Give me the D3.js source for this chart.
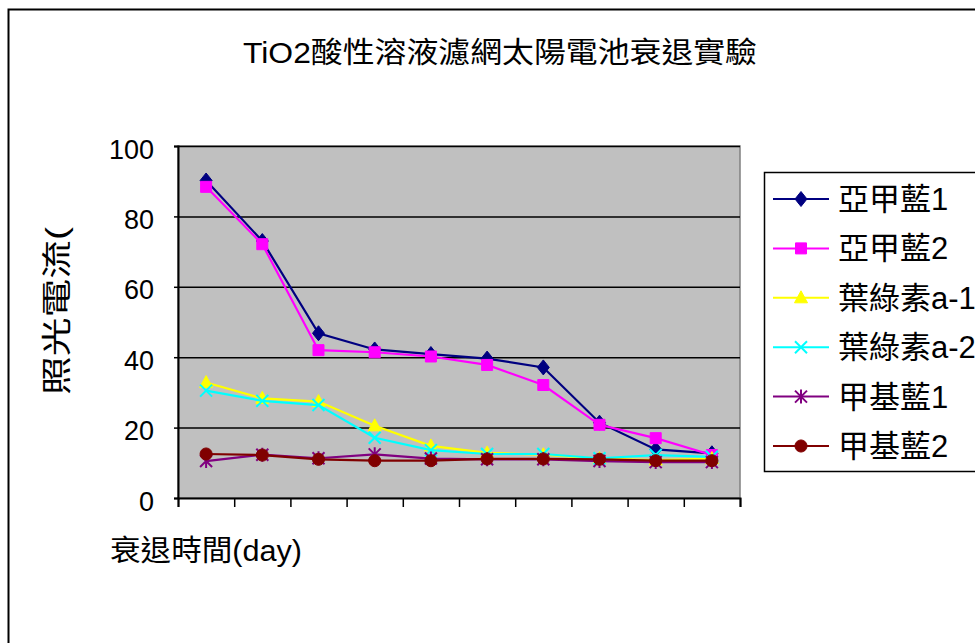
<!DOCTYPE html>
<html>
<head>
<meta charset="utf-8">
<script src="https://cdn.jsdelivr.net/npm/d3@7"></script>
<style>
  html, body { margin: 0; padding: 0; background: #fff; }
  svg { display: block; }
  text { font-family: "Liberation Sans", Arial, "Noto Sans CJK TC", sans-serif; fill: #000; }
</style>
</head>
<body>
<svg id="chart" width="975" height="643"></svg>
<script>
// Decay test of TiO2 dye-sensitised cells: photocurrent per day
const days = [1, 2, 3, 4, 5, 6, 7, 8, 9, 10];
const seriesNames = ["亞甲藍1", "亞甲藍2", "葉綠素a-1", "葉綠素a-2", "甲基藍1", "甲基藍2"];
const methyleneBlue1 = [90.2, 73.0, 46.8, 42.2, 40.9, 39.6, 37.1, 21.4, 13.8, 12.7];
const methyleneBlue2 = [88.4, 72.1, 42.0, 41.4, 40.2, 37.8, 32.1, 20.8, 17.0, 12.2];
const chlorophyll1   = [32.8, 28.3, 27.4, 20.5, 14.8, 12.8, 12.3, 11.2, 10.8, 11.2];
const chlorophyll2   = [30.5, 27.6, 26.4, 17.1, 13.6, 12.5, 12.5, 11.3, 12.2, 11.7];
const methylBlue1    = [10.5, 12.3, 11.3, 12.4, 11.2, 11.0, 11.0, 10.5, 10.2, 10.2];
const methylBlue2    = [12.5, 12.2, 11.0, 10.6, 10.6, 11.1, 11.1, 11.0, 10.6, 10.6];
const yTicks = [0, 20, 40, 60, 80, 100];

const seriesValues = [methyleneBlue1, methyleneBlue2, chlorophyll1, chlorophyll2, methylBlue1, methylBlue2];
const colors = ["#000080", "#FF00FF", "#FFFF00", "#00FFFF", "#800080", "#800000"];
const markerKinds = ["diamond", "square", "triangle", "times", "asterisk", "circle"];

const svg = d3.select("#chart");

// outer chart frame (runs off the right and bottom edges)
svg.append("rect")
  .attr("x", 8.5).attr("y", 9.5).attr("width", 1000).attr("height", 700)
  .attr("fill", "#fff").attr("stroke", "#000").attr("stroke-width", 2);

const plot = { left: 178, right: 740, top: 146, bottom: 498 };

const x = d3.scaleBand().domain(days).range([plot.left, plot.right]).paddingInner(0).paddingOuter(0);
const y = d3.scaleLinear().domain([0, 100]).range([plot.bottom, plot.top]);

// plot background
svg.append("rect")
  .attr("x", plot.left).attr("y", plot.top)
  .attr("width", plot.right - plot.left).attr("height", plot.bottom - plot.top)
  .attr("fill", "#C0C0C0").attr("stroke", "#808080").attr("stroke-width", 1.5);

// horizontal gridlines
svg.append("g")
  .attr("transform", `translate(${plot.left},0)`)
  .call(d3.axisLeft(y).tickValues(yTicks.filter(d => d > 0)).tickSize(-(plot.right - plot.left)).tickFormat(""))
  .call(g => g.select(".domain").remove())
  .call(g => g.selectAll("line").attr("stroke", "#000").attr("stroke-width", 1.5));

// y axis
svg.append("g")
  .attr("transform", `translate(${plot.left},0)`)
  .call(d3.axisLeft(y).tickValues(yTicks).tickSize(4).tickPadding(20))
  .call(g => g.select(".domain").attr("stroke", "#000").attr("stroke-width", 2))
  .call(g => g.selectAll("line").attr("stroke", "#000").attr("stroke-width", 1.5))
  .call(g => g.selectAll("text")
    .style("font-family", "'Liberation Sans', Arial, sans-serif")
    .style("font-size", "27px").attr("dy", "0.45em"));

// x axis: tick marks at category boundaries, no labels
const xEdges = d3.scaleLinear().domain([0, days.length]).range([plot.left, plot.right]);
svg.append("g")
  .attr("transform", `translate(0,${plot.bottom})`)
  .call(d3.axisBottom(xEdges).tickValues(d3.range(0, days.length + 1)).tickSize(9).tickFormat(""))
  .call(g => g.select(".domain").attr("stroke", "#000").attr("stroke-width", 2))
  .call(g => g.selectAll("line").attr("stroke", "#000").attr("stroke-width", 1.5));

// marker paths
function markerPath(kind) {
  switch (kind) {
    case "diamond": return "M0,-7.5L6,0L0,7.5L-6,0Z";
    case "square": return "M-5.5,-5.5H5.5V5.5H-5.5Z";
    case "triangle": return "M0,-7L6.5,5L-6.5,5Z";
    case "times": return "M-6,-6L6,6M-6,6L6,-6";
    case "asterisk": return "M0,-7V7M-6,-6L6,6M-6,6L6,-6";
    case "circle": return d3.symbol(d3.symbolCircle, 115)();
  }
}
const strokeOnly = k => k === "times" || k === "asterisk";

const cx = d => x(d) + x.bandwidth() / 2;
const line = d3.line().x((v, i) => cx(days[i])).y(v => y(v));

seriesValues.forEach((vals, s) => {
  const g = svg.append("g");
  g.append("path")
    .attr("d", line(vals))
    .attr("fill", "none").attr("stroke", colors[s]).attr("stroke-width", 2.2);
  g.selectAll("path.m").data(vals).join("path")
    .attr("class", "m")
    .attr("transform", (v, i) => `translate(${cx(days[i])},${y(v)})`)
    .attr("d", markerPath(markerKinds[s]))
    .attr("fill", strokeOnly(markerKinds[s]) ? "none" : colors[s])
    .attr("stroke", colors[s])
    .attr("stroke-width", strokeOnly(markerKinds[s]) ? 2 : 1);
});

// title
svg.append("text")
  .attr("x", 243).attr("y", 63)
  .attr("textLength", 514).attr("lengthAdjust", "spacingAndGlyphs")
  .style("font-size", "29px")
  .text("TiO2酸性溶液濾網太陽電池衰退實驗");

// axis titles
svg.append("text")
  .attr("x", 110).attr("y", 561)
  .attr("textLength", 192).attr("lengthAdjust", "spacingAndGlyphs")
  .style("font-size", "29px")
  .text("衰退時間(day)");

svg.append("text")
  .attr("transform", "translate(67,395) rotate(-90)")
  .attr("textLength", 168).attr("lengthAdjust", "spacingAndGlyphs")
  .style("font-size", "30px")
  .text("照光電流(");

// legend
const legend = svg.append("g");
legend.append("rect")
  .attr("x", 764.5).attr("y", 172.5).attr("width", 300).attr("height", 299)
  .attr("fill", "#fff").attr("stroke", "#000").attr("stroke-width", 1.5);

const legendY = d3.scalePoint().domain(seriesNames).range([199, 446]);
seriesNames.forEach((name, s) => {
  const ly = legendY(name);
  legend.append("line")
    .attr("x1", 773).attr("x2", 829).attr("y1", ly).attr("y2", ly)
    .attr("stroke", colors[s]).attr("stroke-width", 2);
  legend.append("path")
    .attr("transform", `translate(801,${ly})`)
    .attr("d", markerPath(markerKinds[s]))
    .attr("fill", strokeOnly(markerKinds[s]) ? "none" : colors[s])
    .attr("stroke", colors[s])
    .attr("stroke-width", strokeOnly(markerKinds[s]) ? 2 : 1);
  legend.append("text")
    .attr("x", 838).attr("y", ly + 11)
    .style("font-size", "31px")
    .text(name);
});
</script>
</body>
</html>
